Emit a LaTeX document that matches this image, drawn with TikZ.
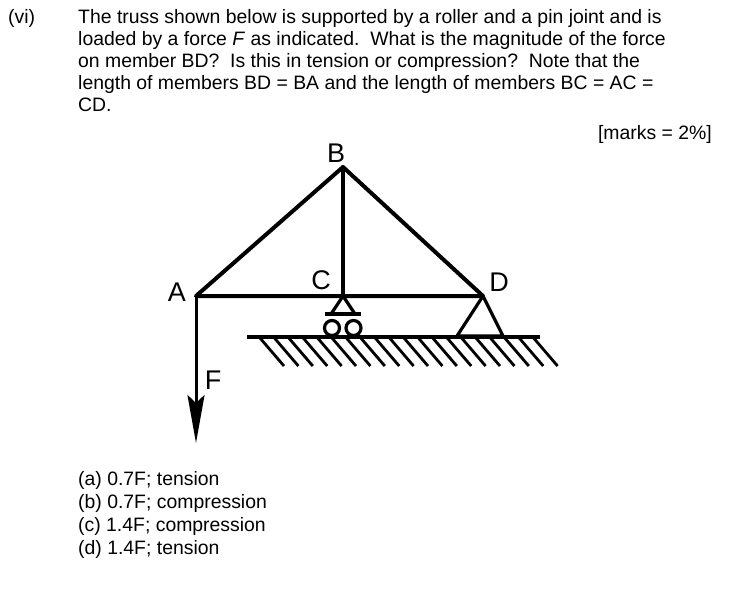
\documentclass[tikz,border=0pt]{standalone}
\usepackage{fontspec}
\setmainfont{Liberation Sans}
\usetikzlibrary{arrows.meta}
\begin{document}
\begin{tikzpicture}[x=1pt,y=-1pt,
  txt/.style={anchor=base west,inner sep=0pt,font=\fontsize{19.4}{22}\selectfont},
  lbl/.style={inner sep=0pt,font=\fontsize{27}{29}\selectfont},
  member/.style={line width=4pt,line cap=round,line join=round},
  thin/.style={line width=3.2pt}]
\useasboundingbox (0,0) rectangle (743,612);
\node[txt] (vi) at (8,24) {(vi)};
\node[txt] (l1) at (78,24) {The truss shown below is supported by a roller and a pin joint and is};
\node[txt] (l2) at (78,46) {loaded by a force \textit{F} as indicated.\ \ What is the magnitude of the force};
\node[txt] (l3) at (78,68) {on member BD?\ \ Is this in tension or compression?\ \ Note that the};
\node[txt] (l4) at (78,90) {length of members BD = BA and the length of members BC = AC =};
\node[txt] (l5) at (78,112) {CD.};
\node[txt,anchor=base east] (mk) at (712,140) {[marks = 2\%]};
\coordinate (A) at (196,296);
\coordinate (B) at (343,167);
\coordinate (C) at (343,296);
\coordinate (D) at (483,296);
\coordinate (Fend) at (196,443);
\draw[member] (A) -- (B) -- (D) -- cycle;
\draw[member] (B) -- (C);
\draw[line width=3pt,-{Stealth[length=48pt,width=17pt,inset=8pt]}] (A) -- (Fend);
% roller
\draw[thin,line join=round] (C) -- (331,314) -- (355,314) -- cycle;
\draw[thin] (325,314) -- (361,314);
\draw[thin] (332,328) circle (7.5);
\draw[thin] (353.5,328) circle (7.5);
% pin
\draw[thin,line join=round] (D) -- (457,336) -- (503,336) -- cycle;
% ground
\draw[line width=3.2pt] (247,337) -- (540,337);
\foreach \i in {0,...,19} \draw[line width=2.8pt] (260+14.4*\i,338) -- (284+14.4*\i,366);
\node[lbl] (lb) at (336,153) {B};
\node[lbl] (lc) at (321,280) {C};
\node[lbl] (ld) at (499,282) {D};
\node[lbl] (la) at (177,292) {A};
\node[lbl] (lf) at (213,380) {F};
\node[txt] (a) at (78,485) {(a) 0.7F; tension};
\node[txt] (b) at (78,508) {(b) 0.7F; compression};
\node[txt] (c) at (78,531) {(c) 1.4F; compression};
\node[txt] (d) at (78,554) {(d) 1.4F; tension};
\end{tikzpicture}
\end{document}
